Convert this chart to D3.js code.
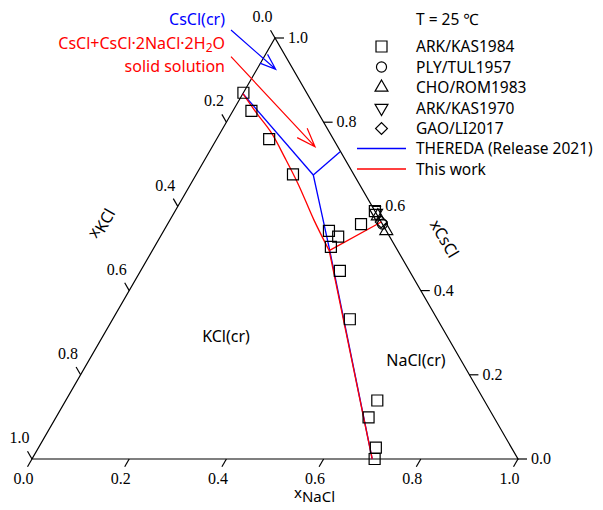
<!DOCTYPE html>
<html>
<head>
  <meta charset="utf-8">
  <script src="https://d3js.org/d3.v7.min.js"></script>
  <style>
    body { margin:0; background:#fff; }
    text { font-family: "Noto Sans", sans-serif; fill:#000; }
    .tick text { font-family: "Liberation Serif", serif; font-size:16px; }
  </style>
</head>
<body>
<script>
// compositions as [xNaCl, xCsCl]; xKCl = 1 - xNaCl - xCsCl
var ticks = [0, 0.2, 0.4, 0.6, 0.8, 1.0];
var tickLabels = ["0.0", "0.2", "0.4", "0.6", "0.8", "1.0"];

var ark1984 = [[0.000, 0.870], [0.038, 0.827], [0.108, 0.760], [0.199, 0.676],
               [0.340, 0.542], [0.366, 0.528], [0.363, 0.504], [0.398, 0.558],
               [0.411, 0.589], [0.410, 0.447], [0.488, 0.332], [0.641, 0.139],
               [0.643, 0.099], [0.694, 0.027], [0.705, 0.000]];
var ply1957 = [[0.442, 0.558]];
var cho1983 = [[0.423, 0.577], [0.458, 0.542]];
var ark1970 = [[0.416, 0.584]];
var gao2017 = [[0.437, 0.563]];

var thereda = [
  [[0.000, 0.868], [0.2415, 0.6746]],
  [[0.2415, 0.6746], [0.269, 0.730]],
  [[0.2415, 0.6746], [0.3615, 0.5005], [0.700, 0.000]]
];
var thisWork = [
  [[0.000, 0.868], [0.052, 0.821], [0.106, 0.774], [0.164, 0.714],
   [0.223, 0.651], [0.296, 0.568], [0.364, 0.495]],
  [[0.364, 0.495], [0.437, 0.563]],
  [[0.364, 0.495], [0.700, 0.000]]
];

var legendNames = ["ARK/KAS1984", "PLY/TUL1957", "CHO/ROM1983", "ARK/KAS1970", "GAO/LI2017"];
var lineNames = ["THEREDA (Release 2021)", "This work"];

var W = 603, H = 510;
var blue = "#0000ff", red = "#ff0000";

var svg = d3.select("body").append("svg")
    .attr("width", W).attr("height", H);

var x = d3.scaleLinear().domain([0, 1]).range([32, 518]);
var y = d3.scaleLinear().domain([0, 1]).range([459, 38]);
function P(d) { return [x(d[0] + d[1] / 2), y(d[1])]; }

// triangle frame
svg.append("path")
    .attr("d", d3.line()([P([0, 0]), P([1, 0]), P([0, 1]), P([0, 0])]) + "Z")
    .attr("fill", "none").attr("stroke", "#000").attr("stroke-width", 1.2);

var tl = 9, c60 = 0.5, s60 = Math.sqrt(3) / 2;
var g = svg.append("g").attr("class", "tick");

// bottom axis: xNaCl
ticks.forEach(function(t, i) {
  var p = P([t, 0]);
  g.append("line").attr("x1", p[0]).attr("y1", p[1])
    .attr("x2", p[0] - tl * c60).attr("y2", p[1] + tl * s60)
    .attr("stroke", "#000").attr("stroke-width", 1.2);
  g.append("text").attr("x", p[0] - tl * c60 - 4).attr("y", 484)
    .attr("text-anchor", "middle").text(tickLabels[i]);
});
// right axis: xCsCl
ticks.forEach(function(t, i) {
  var p = P([1 - t, t]);
  g.append("line").attr("x1", p[0]).attr("y1", p[1])
    .attr("x2", p[0] + tl).attr("y2", p[1])
    .attr("stroke", "#000").attr("stroke-width", 1.2);
  g.append("text").attr("x", p[0] + tl + 4).attr("y", p[1] + 5)
    .text(tickLabels[i]);
});
// left axis: xKCl
ticks.forEach(function(t, i) {
  var p = P([0, 1 - t]);
  var ex = p[0] - tl * c60, ey = p[1] - tl * s60;
  g.append("line").attr("x1", p[0]).attr("y1", p[1])
    .attr("x2", ex).attr("y2", ey)
    .attr("stroke", "#000").attr("stroke-width", 1.2);
  g.append("text").attr("x", ex - 8).attr("y", ey - 13 + 5)
    .attr("text-anchor", "middle").text(tickLabels[i]);
});

// axis titles
var tn = svg.append("text").attr("x", 294).attr("y", 498).style("font-size", "15px");
tn.append("tspan").text("x");
tn.append("tspan").attr("dy", 4).text("NaCl");

var tk = svg.append("text").attr("transform", "translate(106,226) rotate(-60)")
    .attr("text-anchor", "middle").style("font-size", "16px");
tk.append("tspan").attr("dy", -2).text("x");
tk.append("tspan").attr("dy", 4).text("KCl");

var tc = svg.append("text").attr("transform", "translate(442,240) rotate(60)")
    .attr("text-anchor", "middle").style("font-size", "16px");
tc.append("tspan").attr("dy", 3).text("xCsCl");

// region labels
svg.append("text").attr("x", 226).attr("y", 342).attr("text-anchor", "middle")
    .style("font-size", "16px").text("KCl(cr)");
svg.append("text").attr("x", 416).attr("y", 366).attr("text-anchor", "middle")
    .style("font-size", "16px").text("NaCl(cr)");

// lines
var line = d3.line().x(function(d) { return P(d)[0]; }).y(function(d) { return P(d)[1]; });
svg.append("g").selectAll("path").data(thereda).enter().append("path")
    .attr("d", line).attr("fill", "none").attr("stroke", blue).attr("stroke-width", 1.3);
svg.append("g").selectAll("path").data(thisWork).enter().append("path")
    .attr("d", line.curve(d3.curveCatmullRom)).attr("fill", "none")
    .attr("stroke", red).attr("stroke-width", 1.3);

// symbols
var symSquare = d3.symbol().type(d3.symbolSquare).size(121)();
var symCircle = d3.symbol().type(d3.symbolCircle).size(80)();
var symTri = d3.symbol().type(d3.symbolTriangle).size(72)();
var symDiam = d3.symbol().type(d3.symbolSquare).size(70)();
var sets = [
  {data: ark1984, path: symSquare, rot: 0},
  {data: ply1957, path: symCircle, rot: 0},
  {data: cho1983, path: symTri, rot: 0},
  {data: ark1970, path: symTri, rot: 180},
  {data: gao2017, path: symDiam, rot: 45}
];
sets.forEach(function(s) {
  svg.append("g").selectAll("path").data(s.data).enter().append("path")
    .attr("d", s.path)
    .attr("transform", function(d) { var p = P(d); return "translate(" + p[0] + "," + p[1] + ") rotate(" + s.rot + ")"; })
    .attr("fill", "none").attr("stroke", "#000").attr("stroke-width", 1.2);
});

// legend
var lg = svg.append("g").style("font-size", "15.5px");
lg.append("text").attr("x", 416).attr("y", 25).text("T = 25 \u2103");
sets.forEach(function(s, i) {
  var yy = 46.5 + i * 20.5;
  lg.append("path").attr("d", s.path)
    .attr("transform", "translate(381.5," + yy + ") rotate(" + s.rot + ")")
    .attr("fill", "none").attr("stroke", "#000").attr("stroke-width", 1.2);
  lg.append("text").attr("x", 416).attr("y", yy + 5.5).text(legendNames[i]);
});
[blue, red].forEach(function(col, i) {
  var yy = 148.5 + i * 20.5;
  lg.append("line").attr("x1", 357).attr("x2", 406).attr("y1", yy).attr("y2", yy)
    .attr("stroke", col).attr("stroke-width", 1.3);
  lg.append("text").attr("x", 416).attr("y", yy + 5.5).text(lineNames[i]);
});

// annotations
function arrow(x1, y1, x2, y2, len, col) {
  var a = Math.atan2(y2 - y1, x2 - x1), sp = 20 * Math.PI / 180;
  var d = "M" + x1 + "," + y1 + "L" + x2 + "," + y2 +
    "M" + (x2 - len * Math.cos(a - sp)) + "," + (y2 - len * Math.sin(a - sp)) +
    "L" + x2 + "," + y2 +
    "L" + (x2 - len * Math.cos(a + sp)) + "," + (y2 - len * Math.sin(a + sp));
  svg.append("path").attr("d", d).attr("fill", "none").attr("stroke", col).attr("stroke-width", 1.2);
}
arrow(231, 30, 275.7, 69.3, 17, blue);
arrow(231, 56.7, 315, 146.7, 20, red);

svg.append("text").attr("x", 225).attr("y", 25).attr("text-anchor", "end")
    .style("font-size", "16px").style("fill", blue).text("CsCl(cr)");
var t2 = svg.append("text").attr("x", 225).attr("y", 49).attr("text-anchor", "end")
    .style("font-size", "16px").style("fill", red);
t2.append("tspan").text("CsCl+CsCl\u00b72NaCl\u00b72H");
t2.append("tspan").attr("dy", 3).style("font-size", "12px").text("2");
t2.append("tspan").attr("dy", -3).text("O");
svg.append("text").attr("x", 225).attr("y", 72).attr("text-anchor", "end")
    .style("font-size", "16px").style("fill", red).text("solid solution");
</script>
</body>
</html>
